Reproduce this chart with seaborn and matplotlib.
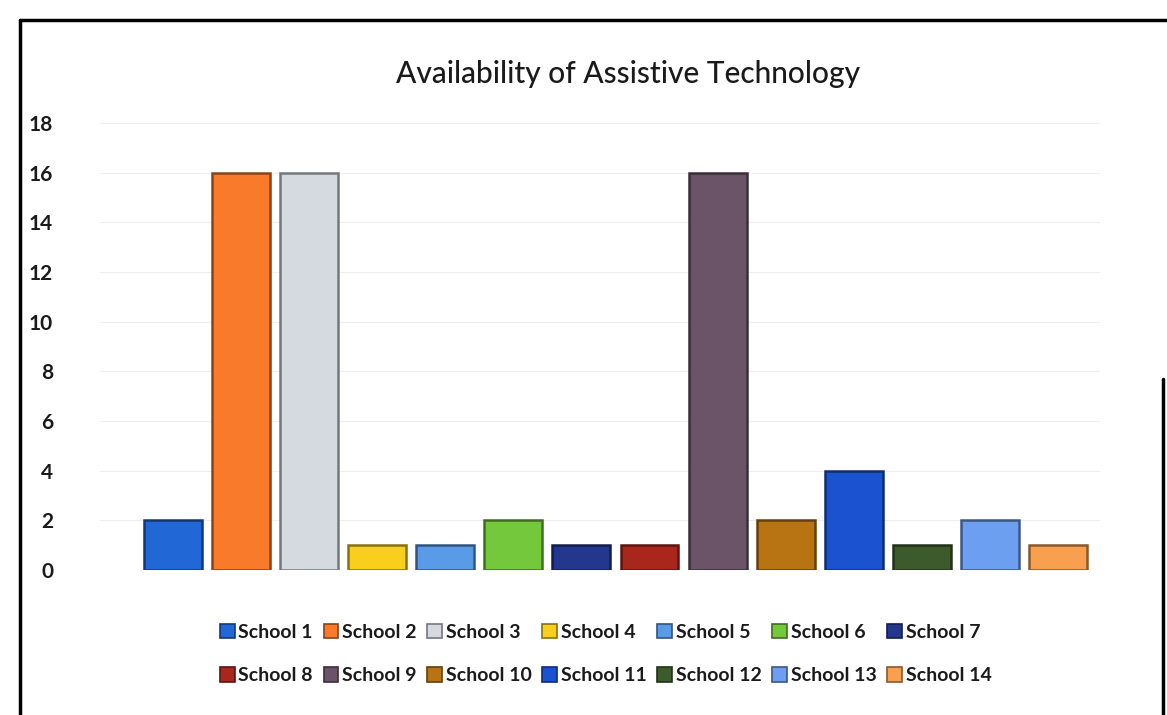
import pandas as pd
import seaborn as sns
import matplotlib.pyplot as plt
import matplotlib.colors as mcolors
from matplotlib.lines import Line2D

# Chart data
schools = ["School 1", "School 2", "School 3", "School 4", "School 5", "School 6", "School 7",
           "School 8", "School 9", "School 10", "School 11", "School 12", "School 13", "School 14"]
counts = [2, 16, 16, 1, 1, 2, 1, 1, 16, 2, 4, 1, 2, 1]
y_ticks = [0, 2, 4, 6, 8, 10, 12, 14, 16, 18]

bar_colors = ["#2167d6", "#f97a2a", "#d5d9e0", "#f8cf1c", "#5a9be8", "#74c83b", "#23378f",
              "#a8261c", "#6b5468", "#b87412", "#1a52cf", "#3d5a2c", "#6c9ff0", "#f9a050"]


def darker(c, f=0.55):
    r, g, b = mcolors.to_rgb(c)
    return (r * f, g * f, b * f)


df = pd.DataFrame({"school": schools, "count": counts})

sns.set_style("white")
plt.rcParams["font.family"] = ["Lato", "DejaVu Sans"]

fig = plt.figure(figsize=(11.67, 7.15), dpi=100)
ax = fig.add_axes([0.086, 0.203, 0.857, 0.625])

sns.barplot(data=df, x="school", y="count", hue="school", palette=bar_colors,
            width=0.85, legend=True, ax=ax, saturation=1)

for patch, c in zip(ax.patches, bar_colors):
    patch.set_edgecolor(darker(c))
    patch.set_linewidth(1.8)

ax.set_ylim(0, 18)
ax.set_xlim(-1.06, 13.62)
ax.set_yticks(y_ticks)
ax.set_yticklabels([str(t) for t in y_ticks], fontsize=15, fontweight="bold", color="#1a1a1a")
ax.tick_params(axis="y", length=0, pad=34)
ax.set_xticks([])
ax.set_xlabel("")
ax.set_ylabel("")
ax.grid(axis="y", color="#eeeeee", linewidth=0.8)
ax.set_axisbelow(True)
for s in ax.spines.values():
    s.set_visible(False)

fig.text(0.538, 0.897, "Availability of Assistive Technology", ha="center", va="center",
         fontsize=21.5, fontweight="medium", color="#1a1a1a")

handles, labels = ax.get_legend_handles_labels()
ax.legend_.remove()
for h, c in zip(handles, bar_colors):
    h.set_edgecolor(darker(c))
    h.set_linewidth(1.2)
# legend fills column by column, so interleave to read row by row
order = [i + r * 7 for i in range(7) for r in range(2)]
fig.legend([handles[i] for i in order], [labels[i] for i in order],
           loc="center", bbox_to_anchor=(0.519, 0.085), ncol=7,
           frameon=False, prop={"size": 14, "weight": "bold"},
           handlelength=0.75, handleheight=0.75, handletextpad=0.2,
           columnspacing=0.55, labelspacing=1.35, labelcolor="#1a1a1a")

# photo frame edges
fig.add_artist(Line2D([0.017, 1.0], [0.972, 0.972], transform=fig.transFigure,
                      color="black", linewidth=2.5))
fig.add_artist(Line2D([0.017, 0.017], [0.0, 0.972], transform=fig.transFigure,
                      color="black", linewidth=2.5))
fig.add_artist(Line2D([0.997, 0.997], [0.0, 0.47], transform=fig.transFigure,
                      color="black", linewidth=2.5))

fig.savefig("out.png", dpi=100)
